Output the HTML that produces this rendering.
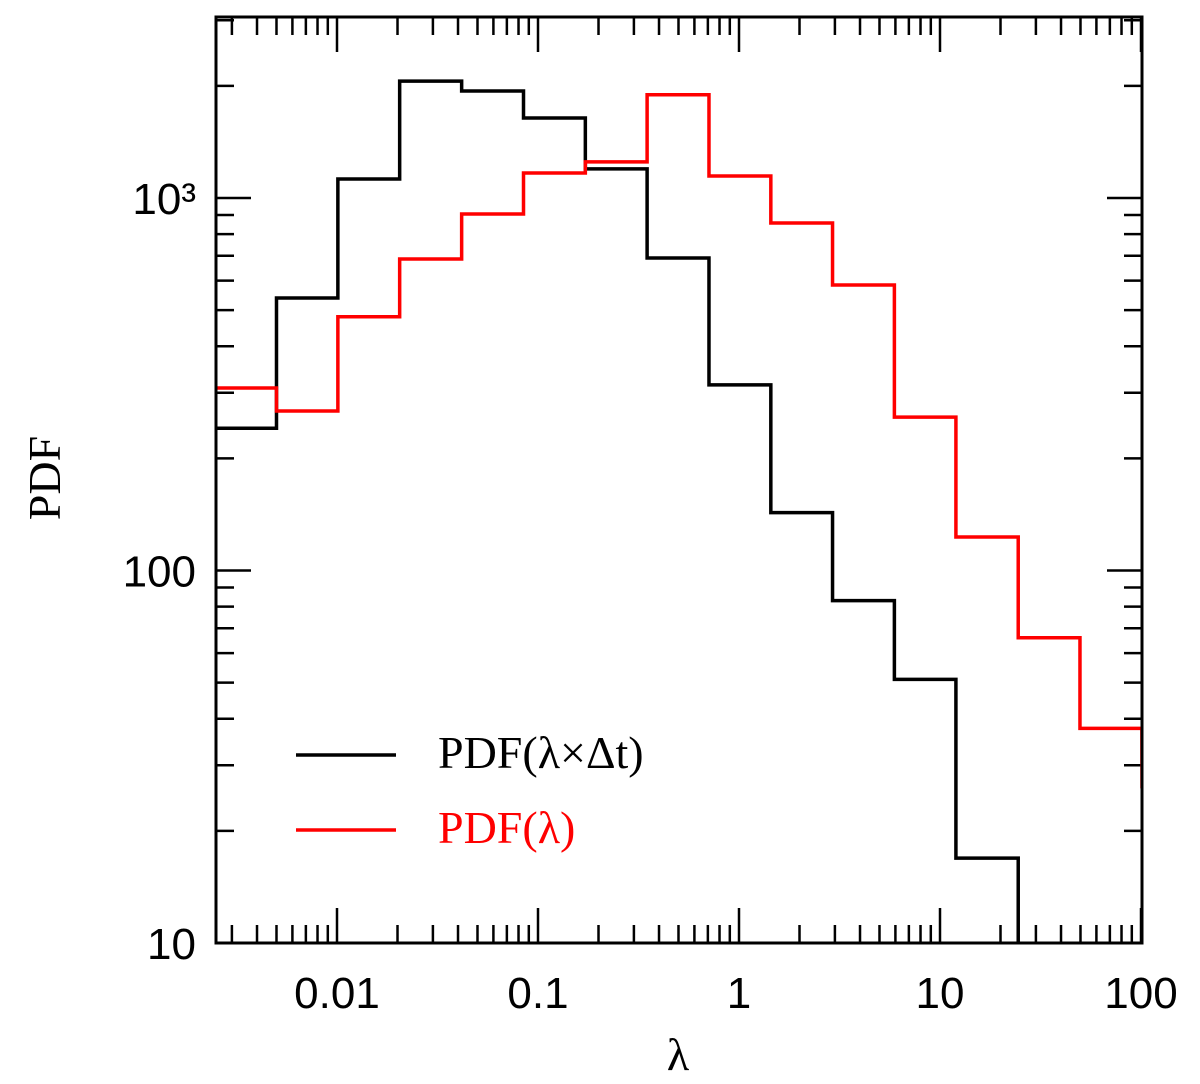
<!DOCTYPE html>
<html><head><meta charset="utf-8"><style>
body{margin:0;background:#fff}
svg text{font-family:"Liberation Sans",sans-serif}
</style></head><body>
<svg id="chart" width="1200" height="1079" xmlns="http://www.w3.org/2000/svg">
<g id="ticks"></g>
<g id="series"></g>
<rect x="216" y="17" width="926" height="926" fill="none" stroke="#000" stroke-width="3"/>
<g>
<line x1="296" y1="755" x2="396" y2="755" stroke="#000" stroke-width="3.5"/>
<text x="438" y="768" font-size="46" style="font-family:'Liberation Serif',serif">PDF(λ×Δt)</text>
<line x1="296" y1="830" x2="396" y2="830" stroke="#f00" stroke-width="3.5"/>
<text x="438" y="843" font-size="46" fill="#f00" style="font-family:'Liberation Serif',serif">PDF(λ)</text>
</g>
<text x="678" y="1070" font-size="46" text-anchor="middle" style="font-family:'Liberation Serif',serif">λ</text>
<text transform="translate(60,478) rotate(-90)" font-size="46" text-anchor="middle" style="font-family:'Liberation Serif',serif">PDF</text>
</svg>
<script>
const edges=[0.0025,0.005,0.0101,0.0205,0.0417,0.0847,0.172,0.349,0.709,1.44,2.92,5.93,12.0,24.5,49.7,101];
const blackVals=[241,539,1125,2060,1937,1640,1197,690,315,143,83,51,16.9,5,5];
const redVals=[309,268,480,686,906,1167,1250,1893,1146,857,584,258,123,66,37.7];
const redTail=26;
const xTicks=[0.01,0.1,1,10,100];
const xTickLabels=["0.01","0.1","1","10","100"];
const yTicks=[10,100,1000];
const yTickLabels=["10","100","10³"];
const X0=216,X1=1142,Y0=943,Y1=17;
const xmin=Math.log10(0.01)-121/201, xmax=xmin+926/201;
const ymin=1, ymax=1+926/372.5;
function sx(v){return X0+(Math.log10(v)-xmin)/(xmax-xmin)*(X1-X0);}
function sy(v){return Y0-(Math.log10(v)-ymin)/(ymax-ymin)*(Y0-Y1);}
const NS="http://www.w3.org/2000/svg";
const chart=document.getElementById('chart');
const tg=document.getElementById('ticks'), sg=document.getElementById('series');
function line(g,x1,y1,x2,y2,name){const l=document.createElementNS(NS,'line');
l.setAttribute('x1',x1);l.setAttribute('y1',y1);l.setAttribute('x2',x2);l.setAttribute('y2',y2);
l.setAttribute('stroke','#000');l.setAttribute('stroke-width','2.5');


g.appendChild(l);}
function text(x,y,s,anchor,name){const t=document.createElementNS(NS,'text');
t.setAttribute('x',x);t.setAttribute('y',y);t.setAttribute('font-size','44');t.setAttribute('text-anchor',anchor);t.textContent=s;


chart.appendChild(t);}
for(let d=-3;d<=2;d++){for(let m=1;m<10;m++){const v=m*Math.pow(10,d);const px=sx(v);if(px<X0||px>X1+0.5)continue;
const L=m===1?35:18;line(tg,px,Y0,px,Y0-L,'x-tick');line(tg,px,Y1,px,Y1+L,'x-tick-top');}}
xTicks.forEach((v,i)=>text(sx(v),1008,xTickLabels[i],'middle','x-tick-label'));
for(let d=1;d<=3;d++){for(let m=1;m<10;m++){const v=m*Math.pow(10,d);const py=sy(v);if(py<Y1-0.5||py>Y0+0.5)continue;
const L=m===1?35:18;line(tg,X0,py,X0+L,py,'y-tick');line(tg,X1,py,X1-L,py,'y-tick-right');}}
yTicks.forEach((v,i)=>text(196,sy(v)+16,yTickLabels[i],'end','y-tick-label'));
function hist(vals,color,name,tail){let d='';
vals.forEach((v,i)=>{const xa=Math.max(sx(edges[i]),X0),xb=Math.min(sx(edges[i+1]),X1);const y=Math.min(sy(v),Y0+2);
d+=(i===0?'M':'L')+xa+','+y+'L'+xb+','+y;});
if(tail!==undefined)d+='L'+X1+','+sy(tail);
const p=document.createElementNS(NS,'path');p.setAttribute('d',d);p.setAttribute('fill','none');
p.setAttribute('stroke',color);p.setAttribute('stroke-width','3.5');


sg.appendChild(p);}
const clip=document.createElementNS(NS,'clipPath');clip.id='pc';
const cr=document.createElementNS(NS,'rect');cr.setAttribute('x',X0);cr.setAttribute('y',Y1);cr.setAttribute('width',X1-X0);cr.setAttribute('height',Y0-Y1);
clip.appendChild(cr);chart.appendChild(clip);sg.setAttribute('clip-path','url(#pc)');
hist(blackVals,'#000','pdf-lambda-dt-series');
hist(redVals,'#f00','pdf-lambda-series',redTail);
</script>
</body></html>
